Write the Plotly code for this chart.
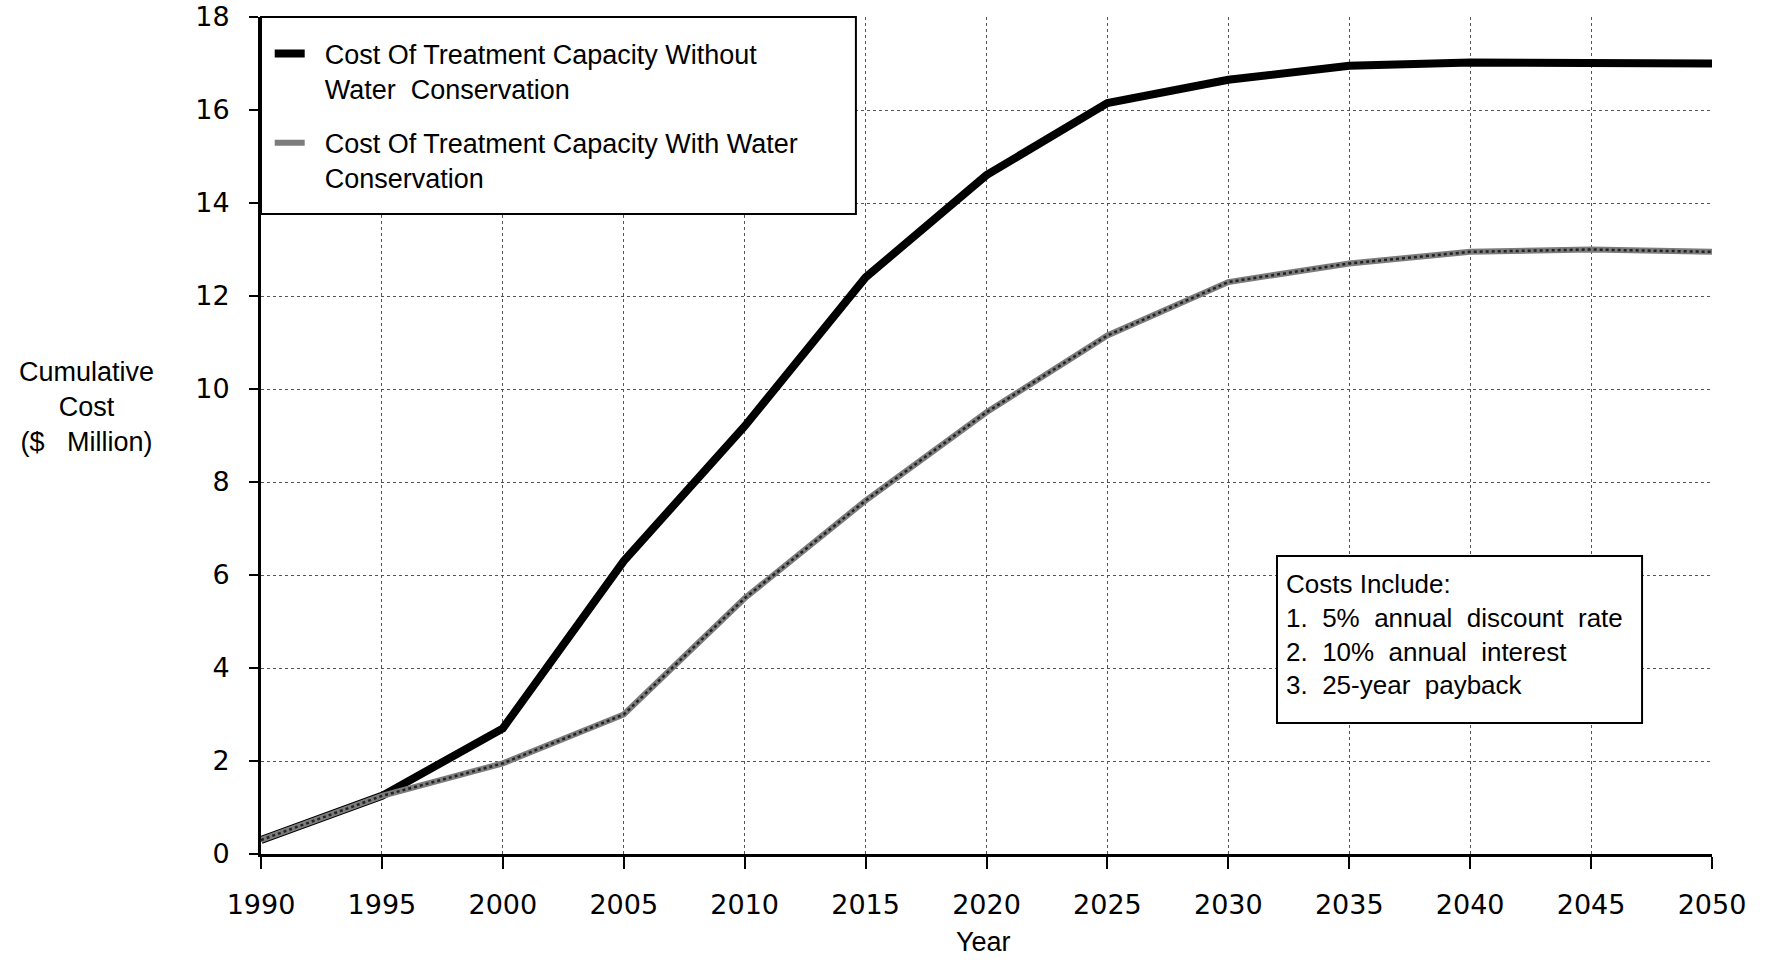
import plotly.graph_objects as go

# Data
years = [1990, 1995, 2000, 2005, 2010, 2015, 2020, 2025, 2030, 2035, 2040, 2045, 2050]
cost_without = [0.3, 1.25, 2.7, 6.3, 9.2, 12.4, 14.6, 16.15, 16.65, 16.95, 17.02, 17.0, 17.0]
cost_with = [0.3, 1.25, 1.95, 3.0, 5.5, 7.6, 9.5, 11.15, 12.3, 12.7, 12.95, 13.0, 12.95]

pad = "\u00a0\u00a0"
name_without = pad + "Cost Of Treatment Capacity Without<br>" + pad + "Water  Conservation"
name_with = pad + "Cost Of Treatment Capacity With Water<br>" + pad + "Conservation"

x_ticks = list(range(1990, 2051, 5))
y_ticks = list(range(0, 19, 2))

font_text = "Liberation Sans, Arial, sans-serif"
font_ticks = "DejaVu Sans, sans-serif"

fig = go.Figure()

fig.add_trace(go.Scatter(
    x=years, y=cost_without, mode="lines",
    line=dict(color="black", width=8),
    name=name_without, legendgroup="a",
    cliponaxis=False
))

# hatched gray line: gray base plus dark dotted overlay
fig.add_trace(go.Scatter(
    x=years, y=cost_with, mode="lines",
    line=dict(color="#7c7c7c", width=6),
    name=name_with, legendgroup="b",
    cliponaxis=False
))
fig.add_trace(go.Scatter(
    x=years, y=cost_with, mode="lines",
    line=dict(color="#222222", width=2.5, dash="dot"),
    showlegend=False, legendgroup="b", hoverinfo="skip",
    cliponaxis=False
))

fig.update_layout(
    width=1766, height=964,
    paper_bgcolor="white", plot_bgcolor="white",
    margin=dict(l=261, r=54, t=17, b=110),
    font=dict(family=font_text, size=27, color="black"),
    showlegend=True,
    legend=dict(
        x=0.006, y=0.985, xanchor="left", yanchor="top",
        bgcolor="rgba(0,0,0,0)", borderwidth=0,
        font=dict(size=27), valign="top",
        traceorder="grouped", tracegroupgap=16,
        itemwidth=30
    ),
    xaxis=dict(
        range=[1990, 2050], tickvals=x_ticks,
        tickfont=dict(family=font_ticks, size=27),
        showgrid=True, gridcolor="#555555", gridwidth=1, griddash="dot",
        showline=True, linecolor="black", linewidth=3,
        ticks="outside", ticklen=12, tickwidth=2, tickcolor="black",
        ticklabelstandoff=13, zeroline=False, automargin=False,
        ticklabeloverflow="allow"
    ),
    yaxis=dict(
        range=[0, 18], tickvals=y_ticks,
        tickfont=dict(family=font_ticks, size=27),
        showgrid=True, gridcolor="#555555", gridwidth=1, griddash="dot",
        showline=True, linecolor="black", linewidth=3,
        ticks="outside", ticklen=9, tickwidth=2, tickcolor="black",
        ticklabelstandoff=14, zeroline=False, automargin=False,
        ticklabeloverflow="allow"
    ),
    shapes=[
        # legend frame
        dict(type="rect", xref="paper", yref="paper",
             x0=0.0, x1=0.410, y0=0.7646, y1=1.0,
             line=dict(color="black", width=2), fillcolor="white", layer="above"),
        # note frame
        dict(type="rect", xref="paper", yref="paper",
             x0=0.7002, x1=0.9518, y0=0.1565, y1=0.356,
             line=dict(color="black", width=2), fillcolor="white", layer="above"),
    ],
    annotations=[
        dict(
            text="Cumulative<br>Cost<br>($   Million)",
            xref="paper", yref="paper", x=-0.12, y=0.534,
            xanchor="center", yanchor="middle", showarrow=False,
            font=dict(size=27), align="center"
        ),
        dict(
            text="Year",
            xref="paper", yref="paper", x=0.4976, y=-0.1055,
            xanchor="center", yanchor="middle", showarrow=False,
            font=dict(size=27)
        ),
        dict(
            text="Costs Include:<br>1.  5%  annual  discount  rate<br>2.  10%  annual  interest<br>3.  25-year  payback",
            xref="paper", yref="paper", x=0.705, y=0.2622,
            xanchor="left", yanchor="middle", showarrow=False,
            font=dict(size=26), align="left"
        )
    ]
)

# drop the default page margin so the figure fills the window exactly
fig.write_html("out.html", config={"displayModeBar": False},
               post_script="document.body.style.margin='0';")
